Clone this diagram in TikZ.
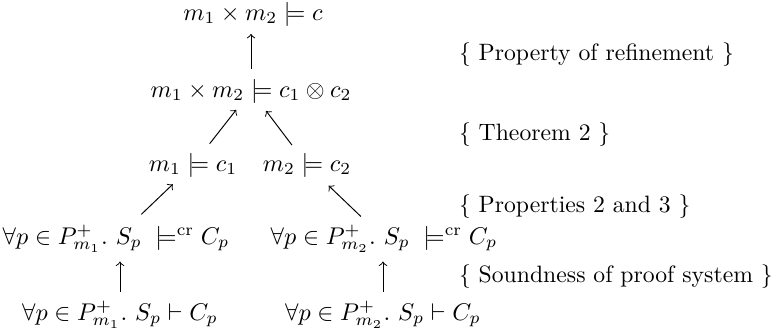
\documentclass[tikz,border=0pt]{standalone}
\usepackage{amsmath,amssymb}
\begin{document}
\def\u{0.4138}
\begin{tikzpicture}[x=\u pt,y=-\u pt,
  every node/.style={inner sep=0pt, outer sep=0pt, anchor=base},
  just/.style={anchor=base west, font=\fontsize{9.8}{12}\selectfont},
  arr/.style={-to, line width=0.4pt}]
\useasboundingbox (0,0) rectangle (774,335);
% main chain
\node (r1) at (253,20) {$m_1\times m_2\models c$};
\node (r2) at (251,97) {$m_1\times m_2\models c_1\otimes c_2$};
\node (r3l) at (193,171) {$m_1\models c_1$};
\node (r3r) at (307,171) {$m_2\models c_2$};
\node (r4l) at (116,244) {$\forall p\in P^{+}_{m_1}.\ S_p\;\models^{\mathrm{cr}} C_p$};
\node (r4r) at (384,244) {$\forall p\in P^{+}_{m_2}.\ S_p\;\models^{\mathrm{cr}} C_p$};
\node (r5l) at (120,320) {$\forall p\in P^{+}_{m_1}.\ S_p\vdash C_p$};
\node (r5r) at (383,320) {$\forall p\in P^{+}_{m_2}.\ S_p\vdash C_p$};
% justifications
\node[just] (j1) at (459,60) {\{ Property of refinement \}};
\node[just] (j2) at (459,140) {\{ Theorem 2 \}};
\node[just] (j3) at (459,212) {\{ Properties 2 and 3 \}};
\node[just] (j4) at (459,282) {\{ Soundness of proof system \}};
% arrows
\draw[arr, shorten <={22*\u pt}, shorten >={20*\u pt}] (r2.center) -- (r2.center |- r1.center);
\draw[arr, shorten <={27*\u pt}, shorten >={24*\u pt}] (r3l.center) -- (r2.center);
\draw[arr, shorten <={25*\u pt}, shorten >={25*\u pt}] (r3r.center) -- (r2.center);
\draw[arr, shorten <={35*\u pt}, shorten >={28*\u pt}] (r4l.center) -- (r3l.center);
\draw[arr, shorten <={32*\u pt}, shorten >={30*\u pt}] (r4r.center) -- (r3r.center);
\draw[arr, shorten <={23*\u pt}, shorten >={23*\u pt}] (r5l.center) -- (r5l.center |- r4l.center);
\draw[arr, shorten <={23*\u pt}, shorten >={23*\u pt}] (r5r.center) -- (r5r.center |- r4r.center);
\end{tikzpicture}
\end{document}
